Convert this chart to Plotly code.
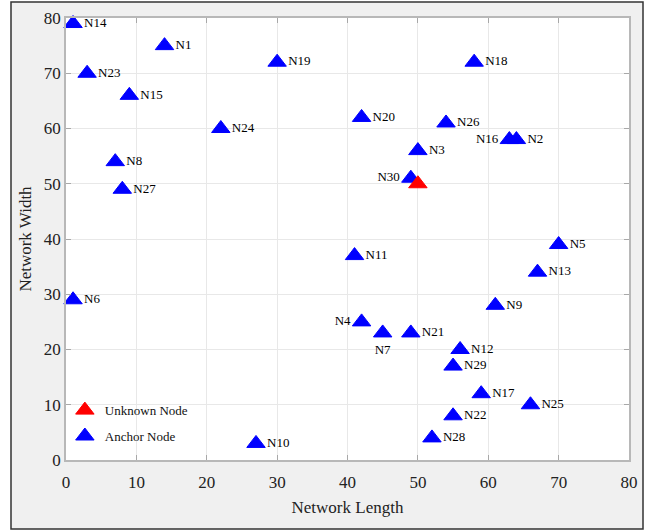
import plotly.graph_objects as go

# Anchor nodes
anchor_names = ["N1", "N2", "N3", "N4", "N5", "N6", "N7", "N8", "N9", "N10",
                "N11", "N12", "N13", "N14", "N15", "N16", "N17", "N18", "N19", "N20",
                "N21", "N22", "N23", "N24", "N25", "N26", "N27", "N28", "N29", "N30"]
anchor_x = [14, 64, 50, 42, 70, 1, 45, 7, 61, 27,
            41, 56, 67, 1, 9, 63, 59, 58, 30, 42,
            49, 55, 3, 22, 66, 54, 8, 52, 55, 49]
anchor_y = [75, 58, 56, 25, 39, 29, 23, 54, 28, 3,
            37, 20, 34, 79, 66, 58, 12, 72, 72, 62,
            23, 8, 70, 60, 10, 61, 49, 4, 17, 51]

# Unknown node
unknown_x = [50]
unknown_y = [50]

x_ticks = [0, 10, 20, 30, 40, 50, 60, 70, 80]
y_ticks = [0, 10, 20, 30, 40, 50, 60, 70, 80]

label_pos = {"N16": "middle left", "N30": "middle left", "N4": "middle left",
             "N7": "bottom center"}
text_positions = [label_pos.get(n, "middle right") for n in anchor_names]

FONT = "Liberation Serif"

fig = go.Figure()
fig.add_trace(go.Scatter(
    x=anchor_x, y=anchor_y, mode="markers+text", name="Anchor Node",
    text=anchor_names, textposition=text_positions,
    textfont=dict(family=FONT, size=13, color="black"),
    marker=dict(symbol="triangle-up", size=16, color="#0000ff",
                line=dict(color="#0000ff", width=1)),
    cliponaxis=False, legendrank=2, legendgroup="a",
))
fig.add_trace(go.Scatter(
    x=unknown_x, y=unknown_y, mode="markers", name="Unknown Node",
    marker=dict(symbol="triangle-up", size=16, color="#ff0000",
                line=dict(color="#ff0000", width=1)),
    cliponaxis=False, legendrank=1, legendgroup="u",
))

L, R, T, B = 66, 20, 18, 71
W, H = 649, 531
pw, ph = W - L - R, H - T - B

shapes = [
    dict(type="rect", xref="paper", yref="paper",
         x0=(11 - L) / pw, x1=(643 - L) / pw,
         y0=-(529 - (H - B)) / ph, y1=((H - B) - 2) / ph,
         fillcolor="#f0f0f0", line=dict(color="#333333", width=1.5), layer="below"),
    dict(type="rect", xref="paper", yref="paper", x0=0, x1=1, y0=0, y1=1,
         fillcolor="white", line=dict(width=0), layer="below"),
]

axis_common = dict(
    range=[0, 80], showgrid=True, gridcolor="#e8e8e8", gridwidth=1,
    showline=True, linecolor="#b8b8b8", linewidth=1.5, mirror="allticks",
    ticks="inside", ticklen=5, tickcolor="#a8a8a8", zeroline=False,
    tickfont=dict(family=FONT, size=17, color="#222"),
    fixedrange=True,
)

fig.update_layout(
    width=W, height=H,
    margin=dict(l=L, r=R, t=T, b=B, autoexpand=False),
    paper_bgcolor="white", plot_bgcolor="rgba(0,0,0,0)",
    shapes=shapes,
    xaxis=dict(axis_common, tickvals=x_ticks, ticklabelstandoff=6,
               title=dict(text="Network Length", standoff=10,
                          font=dict(family=FONT, size=17, color="#222"))),
    yaxis=dict(axis_common, tickvals=y_ticks,
               title=dict(text="Network Width", standoff=8,
                          font=dict(family=FONT, size=17, color="#222"))),
    legend=dict(x=-0.002, y=0.02, xanchor="left", yanchor="bottom",
                bgcolor="rgba(0,0,0,0)", traceorder="grouped", tracegroupgap=6,
                font=dict(family=FONT, size=13, color="#111")),
    showlegend=True,
)

fig.write_html("out.html")
